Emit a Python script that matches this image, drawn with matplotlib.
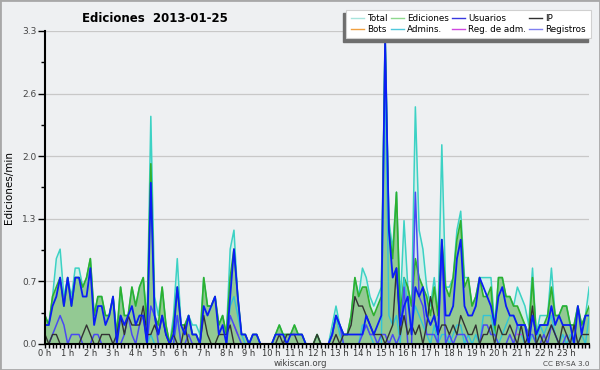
import numpy as np
import matplotlib
matplotlib.use("Agg")
import matplotlib.pyplot as plt
from matplotlib.lines import Line2D
from matplotlib.patches import Rectangle
from matplotlib.ticker import MultipleLocator

# one value every 10 minutes, 0h00 -> 24h00 (edits per minute)
hours = np.arange(145) / 6

total = [0.3, 0.2, 0.5, 0.9, 1.0, 0.5, 0.7, 0.5, 0.8, 0.8, 0.6, 0.7,
         0.9, 0.3, 0.5, 0.5, 0.3, 0.3, 0.5, 0.1, 0.6, 0.3, 0.3, 0.6,
         0.4, 0.6, 0.7, 0.2, 2.4, 0.5, 0.3, 0.6, 0.2, 0.0, 0.3, 0.9,
         0.2, 0.2, 0.3, 0.2, 0.2, 0.1, 0.7, 0.4, 0.4, 0.5, 0.2, 0.3,
         0.1, 1.0, 1.2, 0.5, 0.1, 0.1, 0.0, 0.1, 0.1, 0.0, 0.0, 0.0,
         0.0, 0.1, 0.2, 0.1, 0.1, 0.1, 0.2, 0.1, 0.1, 0.0, 0.0, 0.0,
         0.1, 0.0, 0.0, 0.0, 0.2, 0.4, 0.2, 0.1, 0.1, 0.3, 0.7, 0.5,
         0.8, 0.7, 0.5, 0.4, 0.5, 0.6, 3.3, 1.3, 1.0, 1.6, 0.4, 1.3,
         0.6, 0.4, 2.5, 1.2, 1.0, 0.6, 0.4, 0.7, 0.3, 2.1, 0.6, 0.6,
         0.7, 1.2, 1.4, 0.7, 0.7, 0.4, 0.5, 0.7, 0.7, 0.7, 0.7, 0.2,
         0.7, 0.7, 0.5, 0.5, 0.4, 0.6, 0.5, 0.4, 0.2, 0.8, 0.1, 0.3,
         0.3, 0.3, 0.8, 0.3, 0.3, 0.4, 0.4, 0.2, 0.2, 0.4, 0.2, 0.3,
         0.6]
ediciones = [0.3, 0.2, 0.5, 0.6, 0.7, 0.4, 0.7, 0.4, 0.7, 0.7, 0.6, 0.7,
             0.9, 0.3, 0.5, 0.5, 0.3, 0.3, 0.5, 0.1, 0.6, 0.3, 0.3, 0.6,
             0.4, 0.6, 0.7, 0.2, 1.9, 0.3, 0.2, 0.6, 0.2, 0.0, 0.2, 0.6,
             0.2, 0.2, 0.3, 0.1, 0.1, 0.0, 0.7, 0.4, 0.4, 0.5, 0.2, 0.3,
             0.1, 0.7, 1.0, 0.5, 0.1, 0.1, 0.0, 0.1, 0.1, 0.0, 0.0, 0.0,
             0.0, 0.1, 0.2, 0.1, 0.1, 0.1, 0.2, 0.1, 0.1, 0.0, 0.0, 0.0,
             0.1, 0.0, 0.0, 0.0, 0.1, 0.3, 0.2, 0.1, 0.1, 0.3, 0.7, 0.5,
             0.6, 0.6, 0.4, 0.3, 0.4, 0.5, 3.2, 1.2, 0.9, 1.6, 0.3, 0.7,
             0.6, 0.4, 0.9, 0.7, 0.6, 0.5, 0.3, 0.6, 0.3, 1.1, 0.6, 0.5,
             0.7, 1.1, 1.3, 0.6, 0.7, 0.4, 0.5, 0.7, 0.5, 0.5, 0.6, 0.1,
             0.7, 0.7, 0.5, 0.5, 0.4, 0.4, 0.3, 0.2, 0.1, 0.7, 0.1, 0.2,
             0.2, 0.3, 0.6, 0.3, 0.3, 0.4, 0.4, 0.2, 0.2, 0.4, 0.2, 0.3,
             0.4]
usuarios = [0.2, 0.2, 0.4, 0.5, 0.7, 0.4, 0.7, 0.4, 0.7, 0.7, 0.5, 0.5,
            0.8, 0.2, 0.4, 0.4, 0.2, 0.3, 0.5, 0.0, 0.3, 0.2, 0.3, 0.4,
            0.2, 0.3, 0.3, 0.0, 1.7, 0.3, 0.1, 0.3, 0.1, 0.0, 0.1, 0.6,
            0.2, 0.1, 0.3, 0.1, 0.1, 0.0, 0.4, 0.3, 0.4, 0.5, 0.1, 0.2,
            0.0, 0.5, 1.0, 0.5, 0.1, 0.1, 0.0, 0.1, 0.1, 0.0, 0.0, 0.0,
            0.0, 0.1, 0.1, 0.1, 0.0, 0.1, 0.1, 0.1, 0.1, 0.0, 0.0, 0.0,
            0.0, 0.0, 0.0, 0.0, 0.1, 0.3, 0.2, 0.1, 0.1, 0.1, 0.1, 0.1,
            0.1, 0.3, 0.2, 0.1, 0.2, 0.3, 3.2, 1.2, 0.7, 0.8, 0.2, 0.4,
            0.5, 0.1, 0.6, 0.5, 0.6, 0.3, 0.2, 0.3, 0.1, 1.1, 0.3, 0.3,
            0.4, 0.9, 1.1, 0.4, 0.3, 0.3, 0.4, 0.7, 0.6, 0.5, 0.4, 0.2,
            0.5, 0.6, 0.4, 0.3, 0.3, 0.2, 0.2, 0.2, 0.0, 0.3, 0.1, 0.2,
            0.2, 0.2, 0.4, 0.2, 0.3, 0.2, 0.2, 0.2, 0.0, 0.4, 0.1, 0.3,
            0.3]
ip = [0.1, 0.0, 0.1, 0.1, 0.0, 0.0, 0.0, 0.0, 0.0, 0.0, 0.1, 0.2,
      0.1, 0.0, 0.0, 0.1, 0.1, 0.1, 0.0, 0.1, 0.3, 0.1, 0.3, 0.2,
      0.2, 0.2, 0.4, 0.1, 0.1, 0.2, 0.1, 0.3, 0.1, 0.0, 0.1, 0.0,
      0.0, 0.2, 0.0, 0.0, 0.0, 0.0, 0.3, 0.1, 0.0, 0.0, 0.1, 0.1,
      0.1, 0.2, 0.0, 0.0, 0.0, 0.0, 0.0, 0.0, 0.0, 0.0, 0.0, 0.0,
      0.0, 0.0, 0.1, 0.0, 0.1, 0.1, 0.1, 0.0, 0.0, 0.0, 0.0, 0.0,
      0.1, 0.0, 0.0, 0.0, 0.0, 0.1, 0.0, 0.1, 0.1, 0.2, 0.5, 0.4,
      0.4, 0.3, 0.2, 0.1, 0.1, 0.1, 0.0, 0.1, 0.2, 0.8, 0.1, 0.3,
      0.1, 0.2, 0.1, 0.2, 0.0, 0.2, 0.5, 0.3, 0.1, 0.2, 0.2, 0.1,
      0.2, 0.1, 0.3, 0.2, 0.1, 0.1, 0.2, 0.0, 0.1, 0.1, 0.2, 0.0,
      0.2, 0.1, 0.1, 0.2, 0.1, 0.0, 0.2, 0.0, 0.1, 0.4, 0.0, 0.1,
      0.0, 0.1, 0.2, 0.1, 0.0, 0.2, 0.1, 0.0, 0.2, 0.0, 0.1, 0.1,
      0.1]
admins = [0, 0, 0, 0, 0, 0, 0, 0, 0, 0, 0, 0,
          0, 0, 0, 0, 0, 0, 0, 0, 0, 0, 0, 0,
          0, 0, 0, 0, 0.1, 0, 0, 0, 0, 0, 0, 0.3,
          0, 0, 0, 0, 0, 0, 0, 0, 0, 0, 0, 0,
          0, 0.4, 0.5, 0.3, 0.1, 0, 0, 0, 0, 0, 0, 0,
          0, 0, 0, 0, 0, 0, 0, 0, 0, 0, 0, 0,
          0, 0, 0, 0, 0.1, 0.3, 0.1, 0, 0, 0, 0, 0,
          0.2, 0.2, 0.1, 0, 0, 0, 2.9, 0.3, 0.2, 0.3, 0, 0.7,
          0.4, 0.2, 0.4, 0.3, 0.2, 0.1, 0, 0.2, 0, 0.1, 0.1, 0,
          0.1, 0.2, 0.2, 0, 0.1, 0, 0.1, 0, 0.3, 0.3, 0.3, 0.1,
          0, 0.1, 0.2, 0.3, 0.3, 0.2, 0.1, 0, 0, 0.1, 0, 0.2,
          0.1, 0.2, 0.3, 0.1, 0, 0.1, 0, 0.1, 0, 0, 0.1, 0,
          0.3]
registros = [0, 0, 0.1, 0.2, 0.3, 0.2, 0, 0.1, 0.1, 0.1, 0, 0,
             0, 0.1, 0.1, 0, 0, 0, 0, 0, 0, 0.1, 0.3, 0.1,
             0, 0.2, 0.3, 0, 0.4, 0.3, 0, 0, 0, 0, 0, 0.3,
             0, 0, 0.1, 0, 0, 0, 0, 0, 0, 0, 0, 0,
             0, 0.3, 0.2, 0.1, 0, 0, 0, 0, 0, 0, 0, 0,
             0, 0, 0, 0, 0, 0, 0, 0, 0, 0, 0, 0,
             0, 0, 0, 0, 0.1, 0.3, 0.2, 0, 0, 0, 0, 0,
             0.1, 0.2, 0.1, 0.1, 0, 0.1, 0.1, 0, 0.1, 0, 0.1, 0.6,
             0, 0, 1.6, 0.5, 0.4, 0.1, 0.1, 0.1, 0, 1.0, 0, 0.1,
             0, 0.1, 0.1, 0.1, 0, 0, 0, 0, 0.2, 0.2, 0.1, 0.1,
             0, 0, 0, 0.1, 0, 0.2, 0.2, 0.2, 0.1, 0.1, 0, 0,
             0.1, 0, 0.2, 0.1, 0, 0, 0.1, 0, 0, 0, 0, 0,
             0]
reg_adm = [0] * 145
for k, v in [(50, 0.2), (51, 0.1), (86, 0.1), (87, 0.1),
             (125, 0.1), (126, 0.1), (133, 0.1)]:
    reg_adm[k] = v
bots = [0] * 145

bg = "#eef0f2"
fig = plt.figure(figsize=(6, 3.7), dpi=100, facecolor=bg)
ax = fig.add_axes([0.075, 0.0703, 0.907, 0.846])
ax.set_facecolor(bg)

ax.fill_between(hours, total, color="#d3eeea", lw=0)
ax.fill_between(hours, ediciones, color="#93c993", lw=0)
ax.plot(hours, total, color="#3cd2c4", lw=1.1)
ax.plot(hours, ediciones, color="#2eb02e", lw=1.2)
ax.plot(hours, admins, color="#30c4d8", lw=1.0)
ax.plot(hours, np.where(np.array(reg_adm) > 0, reg_adm, np.nan), color="#c040e0", lw=1.0)
ax.plot(hours, registros, color="#4a4af2", lw=1.1)
ax.plot(hours, ip, color="#333333", lw=1.0)
ax.plot(hours, usuarios, color="#0a1ef5", lw=1.3)

ax.set_xlim(0, 24)
ax.set_ylim(0, 3.3)
ax.set_xticks(range(24))
ax.set_xticklabels([f"{h} h" for h in range(24)])
ax.xaxis.set_minor_locator(MultipleLocator(1 / 6))
yt = [0, 0.66, 1.32, 1.98, 2.64, 3.3]
ax.set_yticks(yt)
ax.set_yticklabels([f"{v:.1f}" for v in yt])
ax.yaxis.set_minor_locator(MultipleLocator(0.33))
ax.tick_params(axis="x", which="both", length=3, width=1, pad=0.5,
               labelsize=6, labelcolor="#333333")
ax.tick_params(axis="y", which="major", length=5, width=1, pad=1,
               labelsize=6.5, labelcolor="#444444")
ax.tick_params(axis="y", which="minor", length=3, width=1)
ax.yaxis.grid(True, color="#c8c8c8", lw=0.9)
ax.set_axisbelow(True)
for s in ["top", "right"]:
    ax.spines[s].set_visible(False)
for s in ["left", "bottom"]:
    ax.spines[s].set_linewidth(1.5)

ax.set_ylabel("Ediciones/min", fontsize=7.5, labelpad=6)
fig.text(0.258, 0.951, "Ediciones  2013-01-25", ha="center", va="center",
         fontsize=8.5, fontweight="bold")
fig.text(0.5, 0.017, "wikiscan.org", ha="center", va="center",
         fontsize=6.2, color="#444444")
fig.text(0.983, 0.017, "CC BY-SA 3.0", ha="right", va="center",
         fontsize=5.2, color="#444444")

# legend box with its shadow
fig.patches.append(Rectangle((343 / 600, 1 - 42 / 370), 245 / 600, 29 / 370,
                             transform=fig.transFigure, color="#6e6e6e", zorder=2))
fig.patches.append(Rectangle((346 / 600, 1 - 38 / 370), 245 / 600, 28 / 370,
                             transform=fig.transFigure, facecolor="white",
                             edgecolor="#d0d0d0", lw=0.8, zorder=3))
leg_labels = ["Total", "Bots", "Ediciones", "Admins.",
              "Usuarios", "Reg. de adm.", "IP", "Registros"]
leg_colors = ["#a8e4dc", "#f0a040", "#8ed88e", "#50c8dc",
              "#3838e0", "#d048e0", "#303030", "#8080f0"]
handles = [Line2D([], [], color=c, lw=1) for c in leg_colors]
fig.legend(handles, leg_labels, ncol=4, loc="center",
           bbox_to_anchor=(468.5 / 600, 1 - 24 / 370), frameon=False,
           fontsize=6.3, handlelength=1.5, handletextpad=0.35,
           columnspacing=0.35, labelspacing=0.3, borderpad=0)

fig.patches.append(Rectangle((0, 0), 1, 1, transform=fig.transFigure,
                             fill=False, edgecolor="#a8a8a8", lw=2, zorder=4))

fig.savefig("out.png", dpi=100, facecolor=bg)
